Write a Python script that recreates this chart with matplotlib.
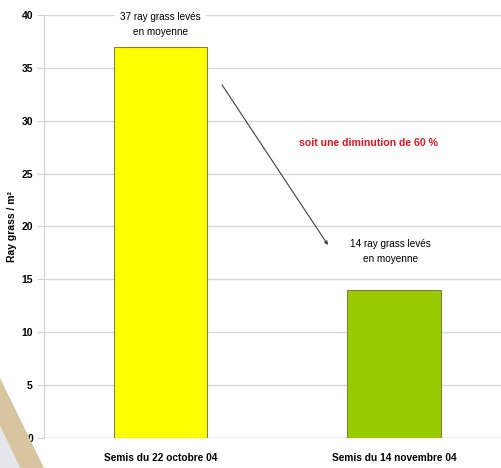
import matplotlib
matplotlib.use("Agg")
import matplotlib.pyplot as plt
from matplotlib.patches import Polygon

categories = ["Semis du 22 octobre 04", "Semis du 14 novembre 04"]
values = [37, 14]
colors = ["#FFFF00", "#99CC00"]
yticks = [0, 5, 10, 15, 20, 25, 30, 35, 40]
ylabel = "Ray grass / m\u00b2"
note_1 = "37 ray grass lev\u00e9s\nen moyenne"
note_2 = "14 ray grass lev\u00e9s\nen moyenne"
note_red = "soit une diminution de 60 %"

plt.rcParams['font.family'] = ['Liberation Sans', 'DejaVu Sans']

W, H = 502, 468
fig = plt.figure(figsize=(W / 100, H / 100), dpi=100)
fig.patch.set_facecolor("white")

# decorative background band (bottom-left)
def fp(x, y):
    return (x / W, 1 - y / H)
fig.patches.append(Polygon([fp(0, 378), fp(44, 468), fp(20, 468), fp(0, 426)],
                           closed=True, transform=fig.transFigure,
                           facecolor="#D9C4A0", edgecolor="none", zorder=0))
fig.patches.append(Polygon([fp(0, 426), fp(20, 468), fp(0, 468)],
                           closed=True, transform=fig.transFigure,
                           facecolor="#E3E6EA", edgecolor="none", zorder=0))

left, right, top, bottom = 44, 502, 15, 438
ax = fig.add_axes([left / W, 1 - bottom / H, (right - left) / W, (bottom - top) / H])
ax.patch.set_alpha(0)

x = list(range(len(categories)))
ax.bar(x, values, width=0.4, color=colors, edgecolor="#808040", linewidth=0.8, zorder=3)

ax.set_ylim(0, 40)
ax.set_xlim(-0.499, 1.462)
ax.set_yticks(yticks)
ax.set_yticklabels([str(t) for t in yticks], fontsize=7.5, fontweight="bold")
ax.set_xticks(x)
ax.set_xticklabels(categories, fontsize=7.3, fontweight="bold")
ax.tick_params(axis="x", length=0, pad=11)
ax.tick_params(axis="y", length=5, color="#D0D0D0", pad=3)
ax.yaxis.grid(True, color="#D8D8D8", linewidth=1, zorder=0)
ax.set_axisbelow(True)
for s in ["top", "right", "bottom"]:
    ax.spines[s].set_visible(False)
ax.spines["left"].set_color("#D0D0D0")
ax.axhline(0, color="#C8C8C8", linewidth=1, zorder=1)

ax.set_ylabel(ylabel, fontsize=7.5, fontweight="bold")
ax.yaxis.set_label_coords(-0.06, 0.5)

ax.text(0, 39.1, note_1, ha="center", va="center", fontsize=7.2, linespacing=1.6,
        bbox=dict(facecolor="white", edgecolor="none", pad=4), zorder=5)
ax.text(0.983, 17.6, note_2, ha="center", va="center", fontsize=7.2, linespacing=1.6,
        bbox=dict(facecolor="white", edgecolor="none", pad=3), zorder=5)
ax.text(0.889, 27.9, note_red, ha="center", va="center", fontsize=7.6,
        fontweight="bold", color="#E8141E", zorder=5)
ax.annotate("", xy=(0.717, 18.25), xytext=(0.263, 33.4),
            arrowprops=dict(arrowstyle="-|>", color="#404040", lw=0.8,
                            mutation_scale=5, shrinkA=0, shrinkB=0), zorder=4)

fig.savefig("out.png", dpi=100)
